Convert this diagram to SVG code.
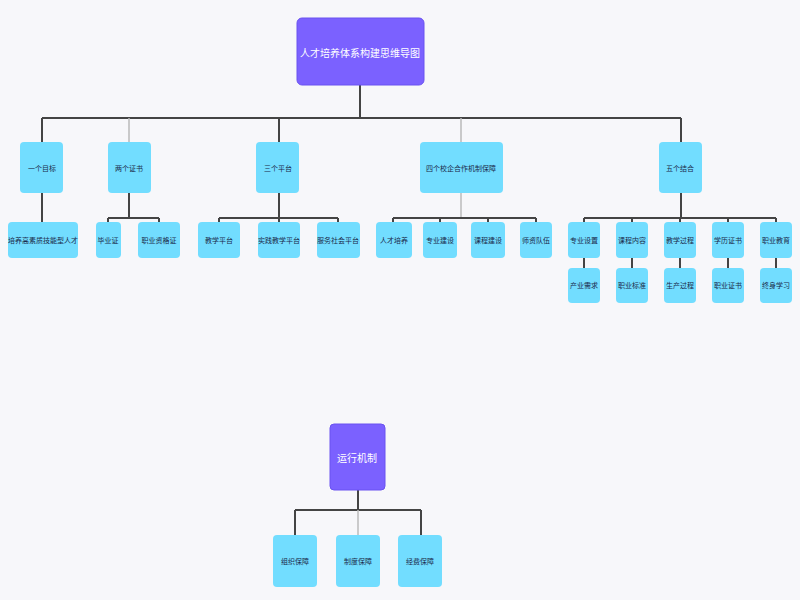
<svg xmlns="http://www.w3.org/2000/svg" width="800" height="600" viewBox="0 0 800 600">
<style>
.bg{fill:#f7f7fa}
.p{fill:#7b61ff;stroke:#6a52f0;stroke-width:1}
.c{fill:#72ddff}
.pt{font-family:"Noto Sans CJK SC","Liberation Sans",sans-serif;font-size:10px;fill:#fff;text-anchor:middle;dominant-baseline:central}
.ct{font-family:"Noto Sans CJK SC","Liberation Sans",sans-serif;font-size:7px;fill:#1a2a4a;text-anchor:middle;dominant-baseline:central}
.l{stroke:#444;stroke-width:2;fill:none}
.g{stroke:#bbb;stroke-width:1.5;fill:none}
</style>
<rect class="bg" width="800" height="600"/>
<g id="connectors">
<path class="l" d="M360 85V118M42 118H681M42 118V142M279 118V142M681 118V142"/>
<path class="g" d="M129 118V142M461 118V142"/>
<path class="l" d="M42 193V222M129 193V218M108 218H159M108 218V222M159 218V222"/>
<path class="l" d="M279 193V222M219 218H338M219 218V222M338 218V222"/>
<path class="g" d="M461 193V218"/>
<path class="l" d="M393 218H536M393 218V222M440 218V222M488 218V222M536 218V222"/>
<path class="l" d="M681 193V218M584 218H776M584 218V222M632 218V222M680 218V222M728 218V222M776 218V222"/>
<path class="l" d="M584 258V268M632 258V268M680 258V268M728 258V268M776 258V268"/>
<path class="l" d="M358 490V510M295 510H421M295 510V535M421 510V535"/>
<path class="g" d="M358 510V535"/>
</g>
<g id="root"><rect class="p" x="297" y="18" width="127" height="67" rx="5"/><text class="pt" x="360" y="52">人才培养体系构建思维导图</text></g>
<g id="n1"><rect class="c" x="20" y="142" width="43" height="51" rx="4"/><text class="ct" x="42" y="168">一个目标</text></g>
<g id="n2"><rect class="c" x="108" y="142" width="43" height="51" rx="4"/><text class="ct" x="129" y="168">两个证书</text></g>
<g id="n3"><rect class="c" x="256" y="142" width="43" height="51" rx="4"/><text class="ct" x="278" y="168">三个平台</text></g>
<g id="n4"><rect class="c" x="420" y="142" width="83" height="51" rx="4"/><text class="ct" x="461" y="168">四个校企合作机制保障</text></g>
<g id="n5"><rect class="c" x="659" y="142" width="43" height="51" rx="4"/><text class="ct" x="680" y="168">五个结合</text></g>
<g id="n1a"><rect class="c" x="8" y="222" width="70" height="36" rx="4"/><text class="ct" x="43" y="240">培养高素质技能型人才</text></g>
<g id="n2a"><rect class="c" x="96" y="222" width="25" height="36" rx="4"/><text class="ct" x="108" y="240">毕业证</text></g>
<g id="n2b"><rect class="c" x="138" y="222" width="42" height="36" rx="4"/><text class="ct" x="159" y="240">职业资格证</text></g>
<g id="n3a"><rect class="c" x="198" y="222" width="42" height="36" rx="4"/><text class="ct" x="219" y="240">教学平台</text></g>
<g id="n3b"><rect class="c" x="258" y="222" width="42" height="36" rx="4"/><text class="ct" x="279" y="240">实践教学平台</text></g>
<g id="n3c"><rect class="c" x="317" y="222" width="43" height="36" rx="4"/><text class="ct" x="338" y="240">服务社会平台</text></g>
<g id="n4a"><rect class="c" x="376" y="222" width="36" height="36" rx="4"/><text class="ct" x="394" y="240">人才培养</text></g>
<g id="n4b"><rect class="c" x="423" y="222" width="34" height="36" rx="4"/><text class="ct" x="440" y="240">专业建设</text></g>
<g id="n4c"><rect class="c" x="471" y="222" width="34" height="36" rx="4"/><text class="ct" x="488" y="240">课程建设</text></g>
<g id="n4d"><rect class="c" x="520" y="222" width="32" height="36" rx="4"/><text class="ct" x="536" y="240">师资队伍</text></g>
<g id="n5a"><rect class="c" x="568" y="222" width="32" height="36" rx="4"/><text class="ct" x="584" y="240">专业设置</text></g>
<g id="n5b"><rect class="c" x="616" y="222" width="32" height="36" rx="4"/><text class="ct" x="632" y="240">课程内容</text></g>
<g id="n5c"><rect class="c" x="664" y="222" width="32" height="36" rx="4"/><text class="ct" x="680" y="240">教学过程</text></g>
<g id="n5d"><rect class="c" x="712" y="222" width="32" height="36" rx="4"/><text class="ct" x="728" y="240">学历证书</text></g>
<g id="n5e"><rect class="c" x="760" y="222" width="32" height="36" rx="4"/><text class="ct" x="776" y="240">职业教育</text></g>
<g id="n5a1"><rect class="c" x="568" y="268" width="32" height="35" rx="4"/><text class="ct" x="584" y="285">产业需求</text></g>
<g id="n5b1"><rect class="c" x="616" y="268" width="32" height="35" rx="4"/><text class="ct" x="632" y="285">职业标准</text></g>
<g id="n5c1"><rect class="c" x="664" y="268" width="32" height="35" rx="4"/><text class="ct" x="680" y="285">生产过程</text></g>
<g id="n5d1"><rect class="c" x="712" y="268" width="32" height="35" rx="4"/><text class="ct" x="728" y="285">职业证书</text></g>
<g id="n5e1"><rect class="c" x="760" y="268" width="32" height="35" rx="4"/><text class="ct" x="776" y="285">终身学习</text></g>
<g id="root2"><rect class="p" x="330" y="424" width="55" height="66" rx="4"/><text class="pt" x="357" y="457">运行机制</text></g>
<g id="m1"><rect class="c" x="273" y="535" width="44" height="52" rx="4"/><text class="ct" x="295" y="561">组织保障</text></g>
<g id="m2"><rect class="c" x="336" y="535" width="44" height="52" rx="4"/><text class="ct" x="358" y="561">制度保障</text></g>
<g id="m3"><rect class="c" x="398" y="535" width="44" height="52" rx="4"/><text class="ct" x="420" y="561">经费保障</text></g>
</svg>
